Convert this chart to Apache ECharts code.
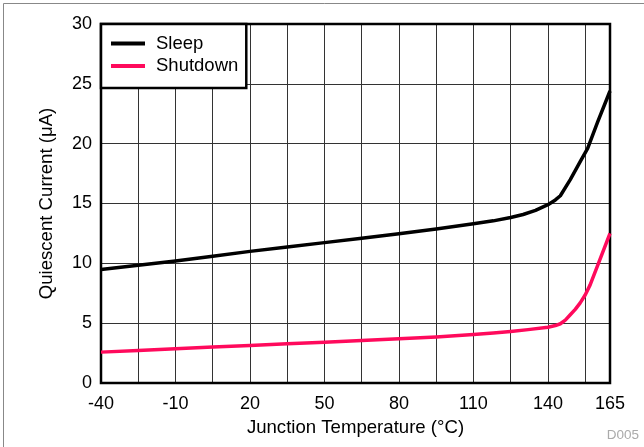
<!DOCTYPE html>
<html>
<head>
<meta charset="utf-8">
<script src="https://cdn.jsdelivr.net/npm/echarts@6/dist/echarts.min.js"></script>
<style>
html,body{margin:0;padding:0;background:#fff;}
#chart{width:644px;height:447px;}
</style>
</head>
<body>
<div id="chart"></div>
<script>
// Data
var sleepTemp = [-40, -25, -10, 5, 20, 35, 50, 65, 80, 95, 110, 118, 125, 130, 135, 140, 143, 145, 149, 153, 156, 160, 165];
var sleepVals = [9.48, 9.84, 10.2, 10.59, 11.0, 11.37, 11.73, 12.1, 12.48, 12.86, 13.3, 13.55, 13.83, 14.08, 14.42, 14.9, 15.3, 15.65, 17.0, 18.5, 19.6, 21.8, 24.4];
var shutTemp = [-40, -25, -10, 5, 20, 35, 50, 65, 80, 95, 110, 118, 125, 132, 140, 143, 145, 147, 149, 151, 153, 155, 157, 160, 165];
var shutVals = [2.58, 2.72, 2.86, 3.0, 3.13, 3.27, 3.41, 3.55, 3.69, 3.85, 4.05, 4.17, 4.3, 4.46, 4.66, 4.8, 4.95, 5.25, 5.7, 6.15, 6.7, 7.35, 8.2, 9.8, 12.5];
var xLabels = [-40, -10, 20, 50, 80, 110, 140, 165];
var yTicks = [0, 5, 10, 15, 20, 25, 30];
var seriesNames = ['Sleep', 'Shutdown'];

var FONT = "'Liberation Sans', Arial, Helvetica, sans-serif";
function pairs(xs, ys) { return xs.map(function (x, i) { return [x, ys[i]]; }); }

var chart = echarts.init(document.getElementById('chart'), null, {renderer: 'canvas'});
chart.setOption({
  animation: false,
  backgroundColor: '#fff',
  textStyle: {fontFamily: FONT},
  grid: {left: 101, right: 34, top: 24, bottom: 64, show: true, borderColor: '#000', borderWidth: 2.5, backgroundColor: 'transparent', z: 3},
  xAxis: [{
    type: 'value', min: xLabels[0], max: xLabels[xLabels.length - 1],
    axisLine: {show: false}, axisTick: {show: false}, splitLine: {show: false},
    axisLabel: {customValues: xLabels, fontSize: 18, color: '#000', margin: 12, fontFamily: FONT, showMinLabel: true, showMaxLabel: true},
    name: 'Junction Temperature (\u00B0C)', nameLocation: 'middle', nameGap: 34,
    nameTextStyle: {fontSize: 18.6, color: '#000', fontFamily: FONT}
  }, {
    // grid-line helper axis: 15-degree steps starting at -40
    type: 'value', min: 0, max: xLabels[xLabels.length - 1] - xLabels[0], interval: 15,
    position: 'bottom',
    axisLine: {show: false}, axisTick: {show: false}, axisLabel: {show: false},
    splitLine: {show: true, lineStyle: {color: '#333', width: 1}}
  }],
  yAxis: {
    type: 'value', min: yTicks[0], max: yTicks[yTicks.length - 1], interval: 5,
    axisLine: {show: false}, axisTick: {show: false},
    splitLine: {show: true, lineStyle: {color: '#333', width: 1}},
    axisLabel: {fontSize: 18, color: '#000', margin: 9, fontFamily: FONT},
    name: 'Quiescent Current (\u03BCA)', nameLocation: 'middle', nameGap: 45,
    nameTextStyle: {fontSize: 18.6, color: '#000', fontFamily: FONT}
  },
  legend: {
    orient: 'vertical', left: 101, top: 24,
    data: seriesNames,
    icon: 'rect', itemWidth: 34, itemHeight: 4, itemGap: 3.5,
    padding: [10, 8, 12.5, 10],
    backgroundColor: '#fff', borderColor: '#000', borderWidth: 2.5, borderRadius: 0,
    textStyle: {fontSize: 18.5, color: '#000', fontFamily: FONT, padding: [0, 0, 0, 6]},
    z: 10
  },
  series: [{
    name: seriesNames[0], type: 'line', xAxisIndex: 0, data: pairs(sleepTemp, sleepVals),
    showSymbol: false, symbol: 'none', smooth: false,
    lineStyle: {color: '#000', width: 3.5, join: 'round'}, itemStyle: {color: '#000'}, z: 5
  }, {
    name: seriesNames[1], type: 'line', xAxisIndex: 0, data: pairs(shutTemp, shutVals),
    showSymbol: false, symbol: 'none', smooth: false,
    lineStyle: {color: '#ff0a5c', width: 3.5, join: 'round'}, itemStyle: {color: '#ff0a5c'}, z: 5
  }],
  graphic: [{
    type: 'rect', shape: {x: 3.5, y: 3.5, width: 700, height: 500},
    style: {fill: 'none', stroke: '#888', lineWidth: 1}, silent: true, z: 0
  }, {
    type: 'text', right: 5, bottom: 5,
    style: {text: 'D005', fontSize: 13.5, fill: '#aaa', fontFamily: FONT}
  }]
});
</script>
</body>
</html>
